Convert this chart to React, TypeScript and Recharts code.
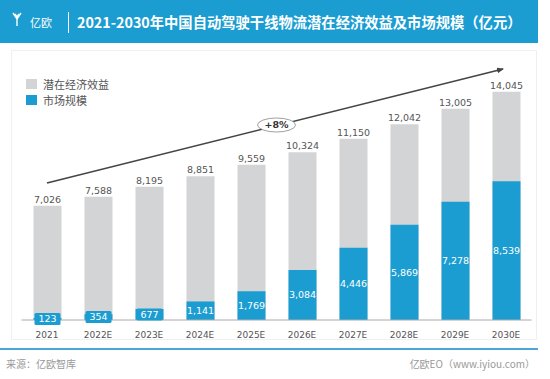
import { BarChart, Bar, XAxis, YAxis, LabelList } from "recharts";

const years = ["2021", "2022E", "2023E", "2024E", "2025E", "2026E", "2027E", "2028E", "2029E", "2030E"];
const potential = [7026, 7588, 8195, 8851, 9559, 10324, 11150, 12042, 13005, 14045];
const market = [123, 354, 677, 1141, 1769, 3084, 4446, 5869, 7278, 8539];
const seriesNames = ["潜在经济效益", "市场规模"];

const BLUE = "#1b9dd1";
const GRAY = "#d3d4d6";
const FONT = "'DejaVu Sans', Verdana, sans-serif";
const CJK = "'Noto Sans CJK SC', sans-serif";

const chartData = years.map((year, i) => ({ year, potential: potential[i], market: market[i] }));

const fmt = (v: number) => v.toLocaleString("en-US");

// white label centred in the blue bar, with a blue box so it shows on tiny bars
function MarketLabel(props: any) {
  const { x, y, width, height, value } = props;
  const cx = x + width / 2;
  const cy = y + height / 2;
  return (
    <g>
      <rect x={cx - 13} y={cy - 6} width={26} height={12} rx={1.5} fill={BLUE} />
      <text x={cx} y={cy} dy="0.35em" textAnchor="middle" fill="#fff" fontSize={9.5} fontFamily={FONT}>
        {fmt(value)}
      </text>
    </g>
  );
}

function LegendBox() {
  const colors = [GRAY, BLUE];
  return (
    <div style={{ position: "absolute", left: 26, top: 76, fontFamily: CJK, fontSize: 11, color: "#555", lineHeight: "16px" }}>
      {seriesNames.map((label, i) => (
        <div key={label} style={{ display: "flex", alignItems: "center" }}>
          <span style={{ display: "inline-block", width: 11, height: 10, background: colors[i], marginRight: 6 }} />
          {label}
        </div>
      ))}
    </div>
  );
}

export default function App() {
  return (
    <div style={{ position: "absolute", left: 0, top: 0, width: 550, height: 379, background: "#fff", overflow: "hidden" }}>
      {/* header band */}
      <div style={{ position: "absolute", left: 0, top: 0, width: 538, height: 43, background: BLUE }} />
      <svg style={{ position: "absolute", left: 0, top: 0 }} width={80} height={43}>
        <path d="M13 13 L17 19 L21 13 M17 19 L17 26 M15 14 L17 17 M19 14 L17 17" stroke="#fff" strokeWidth={1.4} fill="none" />
      </svg>
      <div style={{ position: "absolute", left: 30, top: 14, color: "#fff", fontFamily: CJK, fontSize: 11 }}>亿欧</div>
      <div style={{ position: "absolute", left: 68, top: 12, width: 1, height: 21, background: "#fff" }} />
      <div style={{ position: "absolute", left: 77, top: 11, color: "#fff", fontFamily: CJK, fontSize: 14.3, fontWeight: 700, whiteSpace: "nowrap" }}>
        2021-2030年中国自动驾驶干线物流潜在经济效益及市场规模（亿元）
      </div>

      {/* chart frame */}
      <div style={{ position: "absolute", left: 11, top: 50, width: 526, height: 290, border: "1px solid #f0f0f0", boxSizing: "border-box" }} />

      <LegendBox />

      <div style={{ position: "absolute", left: 0, top: 0 }}>
        <BarChart
          width={550}
          height={379}
          data={chartData}
          margin={{ top: 60, right: 18.5, bottom: 39, left: 21.5 }}
          barSize={28}
          barGap={-28}
        >
          <XAxis
            dataKey="year"
            height={20}
            tickLine={false}
            axisLine={{ stroke: "#aaa" }}
            tick={{ fill: "#555", fontSize: 9, fontFamily: FONT }}
            tickMargin={6}
          />
          <YAxis hide domain={[0, 16000]} />
          <Bar dataKey="potential" name={seriesNames[0]} fill={GRAY} isAnimationActive={false}>
            <LabelList
              dataKey="potential"
              position="top"
              offset={3}
              formatter={(v: any) => fmt(v)}
              fill="#555"
              fontSize={9.5}
              fontFamily={FONT}
            />
          </Bar>
          <Bar dataKey="market" name={seriesNames[1]} fill={BLUE} isAnimationActive={false}>
            <LabelList dataKey="market" content={MarketLabel} />
          </Bar>
        </BarChart>
      </div>

      {/* growth arrow annotation */}
      <svg style={{ position: "absolute", left: 0, top: 0, pointerEvents: "none" }} width={550} height={379}>
        <defs>
          <marker id="ah" markerWidth="8" markerHeight="8" refX="6" refY="3" orient="auto" markerUnits="userSpaceOnUse">
            <path d="M0 0 L7 3 L0 6 z" fill="#444" />
          </marker>
        </defs>
        <line x1={47} y1={183} x2={503} y2={69} stroke="#444" strokeWidth={1.5} markerEnd="url(#ah)" />
        <ellipse cx={276.5} cy={125} rx={19} ry={7} fill="#fff" stroke="#888" strokeWidth={0.8} />
        <text x={276.5} y={125} dy="0.35em" textAnchor="middle" fontSize={9.5} fontWeight={700} fill="#333" fontFamily={FONT}>
          +8%
        </text>
      </svg>

      {/* footer */}
      <div style={{ position: "absolute", left: 0, top: 348, width: 538, height: 2, background: "#4aa6d6" }} />
      <div style={{ position: "absolute", left: 6, top: 356, color: "#999", fontFamily: CJK, fontSize: 10 }}>来源：亿欧智库</div>
      <div style={{ position: "absolute", right: 15, top: 356, color: "#999", fontFamily: CJK, fontSize: 10 }}>亿欧EO（www.iyiou.com）</div>
    </div>
  );
}
